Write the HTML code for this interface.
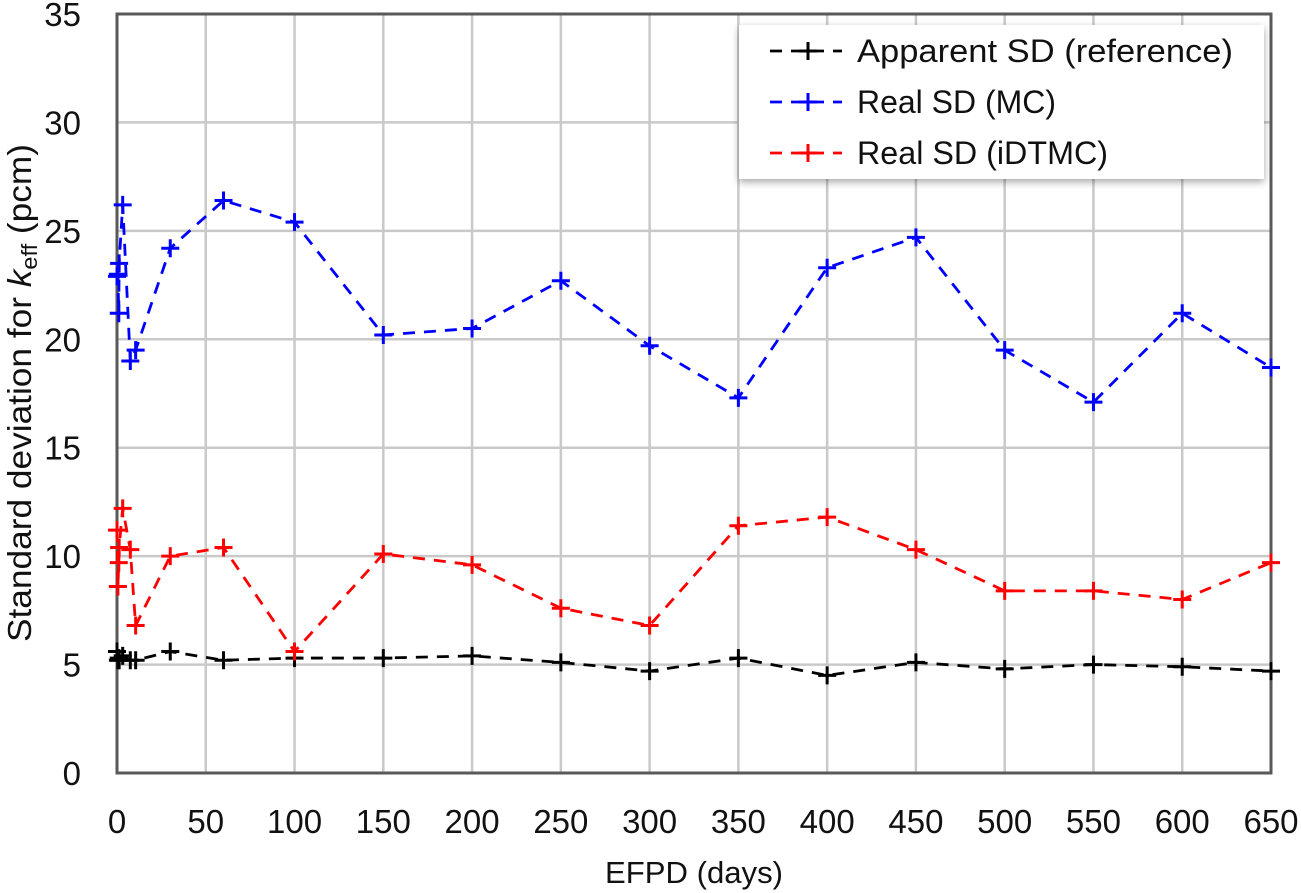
<!DOCTYPE html>
<html lang="en">
<head>
<meta charset="utf-8">
<title>Standard deviation for keff vs EFPD</title>
<style>
html,body{margin:0;padding:0;background:#fff;width:1301px;height:893px;overflow:hidden}
svg{display:block;font-family:"Liberation Sans",sans-serif}
</style>
</head>
<body>
<svg id="chart" width="1301" height="893" viewBox="0 0 1301 893" xmlns="http://www.w3.org/2000/svg">
<defs>
<filter id="legendShadow" x="-5%" y="-10%" width="110%" height="125%">
<feDropShadow dx="0" dy="3" stdDeviation="4" flood-color="#000" flood-opacity="0.35"/>
</filter>
</defs>
<g id="grid"></g>
<g id="axes"></g>
<g id="series"></g>
<g id="legend"></g>
<text transform="translate(31,642) rotate(-90)" font-size="33" fill="#111" textLength="498" lengthAdjust="spacingAndGlyphs">Standard deviation for <tspan font-style="italic">k</tspan><tspan font-size="22" dy="6">eff</tspan><tspan dy="-6"> (pcm)</tspan></text>
<text x="605" y="883" font-size="31" fill="#111" textLength="178" lengthAdjust="spacingAndGlyphs">EFPD (days)</text>
</svg>
<script>
const days = [0, 0.5, 1, 1.2, 3.2, 7.5, 10.5, 30, 60, 100, 150, 200, 250, 300, 350, 400, 450, 500, 550, 600, 650];
const apparentSD = [5.6, 5.2, 5.3, 5.2, 5.4, 5.2, 5.2, 5.6, 5.2, 5.3, 5.3, 5.4, 5.1, 4.7, 5.3, 4.5, 5.1, 4.8, 5.0, 4.9, 4.7];
const realSDMC = [22.9, 23.0, 21.2, 23.5, 26.2, 19.0, 19.5, 24.2, 26.4, 25.4, 20.2, 20.5, 22.7, 19.7, 17.3, 23.3, 24.7, 19.5, 17.1, 21.2, 18.7];
const realSDiDTMC = [11.2, 8.6, 9.7, 10.4, 12.2, 10.3, 6.8, 10.0, 10.4, 5.6, 10.1, 9.6, 7.6, 6.8, 11.4, 11.8, 10.3, 8.4, 8.4, 8.0, 9.7];
const xTicks = [0, 50, 100, 150, 200, 250, 300, 350, 400, 450, 500, 550, 600, 650];
const yTicks = [0, 5, 10, 15, 20, 25, 30, 35];
const legendLabels = ['Apparent SD (reference)', 'Real SD (MC)', 'Real SD (iDTMC)'];

const NS = 'http://www.w3.org/2000/svg';
const xMin = 0, xMax = 650, yMin = 0, yMax = 35;
const plotLeft = 117, plotRight = 1271, plotTop = 14, plotBottom = 773;
function xScale(v) { return plotLeft + (v - xMin) / (xMax - xMin) * (plotRight - plotLeft); }
function yScale(v) { return plotBottom - (v - yMin) / (yMax - yMin) * (plotBottom - plotTop); }
function make(tag, attrs, parent) {
  const el = document.createElementNS(NS, tag);
  for (const k in attrs) el.setAttribute(k, attrs[k]);
  parent.appendChild(el);
  return el;
}
const grid = document.getElementById('grid');
const axes = document.getElementById('axes');
const seriesG = document.getElementById('series');
const legend = document.getElementById('legend');

xTicks.forEach(function (t) {
  if (t !== xMin && t !== xMax) {
    const line = make('line', {x1: xScale(t), x2: xScale(t), y1: plotTop, y2: plotBottom, stroke: '#c9c9c9', 'stroke-width': 2.5}, grid);
    
    
  }
  const label = make('text', {x: xScale(t), y: 833, 'font-size': 33, 'text-anchor': 'middle', fill: '#111'}, axes);
  label.textContent = t;
  
  
});
yTicks.forEach(function (t) {
  if (t !== yMin && t !== yMax) {
    const line = make('line', {x1: plotLeft, x2: plotRight, y1: yScale(t), y2: yScale(t), stroke: '#c9c9c9', 'stroke-width': 2.5}, grid);
    
    
  }
  const label = make('text', {x: 81, y: yScale(t) + 12, 'font-size': 33, 'text-anchor': 'end', fill: '#111'}, axes);
  label.textContent = t;
  
  
});
const frame = make('rect', {x: plotLeft, y: plotTop, width: plotRight - plotLeft, height: plotBottom - plotTop, fill: 'none', stroke: '#595959', 'stroke-width': 3}, axes);



function plus(parent, x, y, color, size) {
  const p = make('path', {d: 'M' + (x - size) + ' ' + y + 'H' + (x + size) + 'M' + x + ' ' + (y - size) + 'V' + (y + size), stroke: color, 'stroke-width': 3, fill: 'none'}, parent);
  return p;
}
function drawSeries(values, color, name) {
  const g = make('g', {}, seriesG);
  
  
  const pts = values.map(function (v, i) { return xScale(days[i]) + ',' + yScale(v); }).join(' ');
  const line = make('polyline', {points: pts, fill: 'none', stroke: color, 'stroke-width': 2.8, 'stroke-dasharray': '12 9'}, g);
  
  
  values.forEach(function (v, i) {
    const m = plus(g, xScale(days[i]), yScale(v), color, 9);
    
    
  });
}
drawSeries(apparentSD, '#000000', 'apparent-sd-series');
drawSeries(realSDMC, '#0000ff', 'real-sd-mc-series');
drawSeries(realSDiDTMC, '#ff0000', 'real-sd-idtmc-series');

const box = make('rect', {x: 739, y: 25, width: 525, height: 154, fill: '#fff', filter: 'url(#legendShadow)'}, legend);


const legendColors = ['#000000', '#0000ff', '#ff0000'];
const legendY = [51, 102, 153];
const legendWidths = [376, 199, 251];
legendLabels.forEach(function (text, i) {
  const g = make('g', {}, legend);
  
  
  const y = legendY[i];
  make('line', {x1: 770, x2: 842, y1: y, y2: y, stroke: legendColors[i], 'stroke-width': 2.8, 'stroke-dasharray': '12 9'}, g);
  plus(g, 808, y, legendColors[i], 9);
  const t = make('text', {x: 857, y: y + 11, 'font-size': 32, fill: '#111', textLength: legendWidths[i], lengthAdjust: 'spacingAndGlyphs'}, g);
  t.textContent = text;
});
</script>
</body>
</html>
